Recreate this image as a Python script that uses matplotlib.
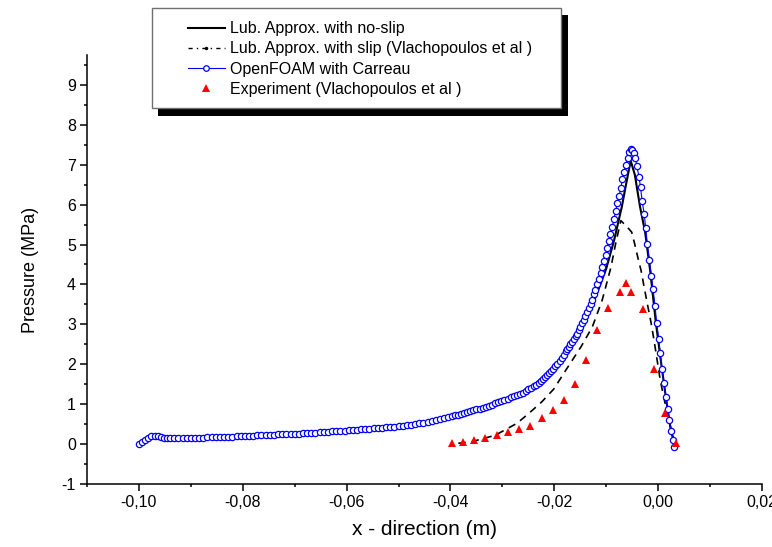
import matplotlib
matplotlib.use("Agg")
import matplotlib.pyplot as plt
from matplotlib.lines import Line2D
from matplotlib.patches import Rectangle
from matplotlib.ticker import MultipleLocator, FuncFormatter

plt.rcParams['font.family'] = ['Liberation Sans', 'DejaVu Sans']
plt.rcParams['axes.unicode_minus'] = False

# ---- OpenFOAM with Carreau (blue circles) ----
foam_x = [
    -0.1000, -0.0994, -0.0988, -0.0982, -0.0976, -0.0970, -0.0964, -0.0958, -0.0952, -0.0946, -0.0940,
    -0.0932, -0.0924, -0.0916, -0.0908, -0.0900, -0.0892, -0.0884, -0.0876, -0.0868, -0.0860,
    -0.0852, -0.0844, -0.0836, -0.0828, -0.0820, -0.0812, -0.0804, -0.0796, -0.0788, -0.0780,
    -0.0772, -0.0764, -0.0756, -0.0748, -0.0740, -0.0732, -0.0724, -0.0716, -0.0708, -0.0700,
    -0.0692, -0.0684, -0.0676, -0.0668, -0.0660, -0.0652, -0.0644, -0.0636, -0.0628, -0.0620,
    -0.0612, -0.0604, -0.0596, -0.0588, -0.0580, -0.0572, -0.0564, -0.0556, -0.0548, -0.0540,
    -0.0532, -0.0524, -0.0516, -0.0508, -0.0500, -0.0492, -0.0484, -0.0476, -0.0468, -0.0460,
    -0.0452, -0.0444, -0.0436, -0.0428, -0.0420, -0.0412, -0.0404,
    -0.0398, -0.0392, -0.0386, -0.0380, -0.0374, -0.0368, -0.0362, -0.0356, -0.0350, -0.0344,
    -0.0338, -0.0332, -0.0326, -0.0320, -0.0314, -0.0308, -0.0302, -0.0296, -0.0290, -0.0284,
    -0.0278, -0.0272, -0.0266, -0.0260, -0.0255, -0.0250, -0.0245, -0.0240, -0.0235, -0.0230,
    -0.0226, -0.0222, -0.0218, -0.0214, -0.0210, -0.0206, -0.0202, -0.0198, -0.0194, -0.0190,
    -0.0186, -0.0182, -0.0178, -0.0175, -0.0172, -0.0169, -0.0166, -0.0163, -0.0159, -0.0156,
    -0.0153, -0.0150, -0.0146, -0.0143, -0.0140, -0.0137, -0.0133, -0.0130, -0.0127, -0.0124,
    -0.0121, -0.0117, -0.0114, -0.0111, -0.0108, -0.0104, -0.0101, -0.0098, -0.0095, -0.0092,
    -0.0088, -0.0085, -0.0082, -0.0079, -0.0075, -0.0072, -0.0069, -0.0066, -0.0062, -0.0059,
    -0.0056, -0.0053, -0.0050, -0.0047, -0.0044, -0.0041, -0.0037, -0.0034, -0.0031, -0.0027,
    -0.0024, -0.0021, -0.0017, -0.0013, -0.0010, -0.0006, -0.0003, 0.0001, 0.0004, 0.0007,
    0.0011, 0.0015, 0.0018, 0.0021, 0.0025, 0.0028, 0.0031,
]
foam_p = [
    0.00, 0.04, 0.09, 0.14, 0.19, 0.21, 0.19, 0.17, 0.16, 0.15, 0.145,
    0.14, 0.14, 0.145, 0.15, 0.15, 0.155, 0.16, 0.16, 0.165, 0.17,
    0.17, 0.175, 0.18, 0.18, 0.185, 0.19, 0.195, 0.20, 0.205, 0.21,
    0.215, 0.22, 0.225, 0.23, 0.235, 0.24, 0.245, 0.25, 0.255, 0.26,
    0.265, 0.27, 0.28, 0.285, 0.29, 0.30, 0.305, 0.31, 0.32, 0.325,
    0.33, 0.34, 0.345, 0.355, 0.36, 0.37, 0.38, 0.385, 0.395, 0.405,
    0.415, 0.42, 0.43, 0.44, 0.45, 0.465, 0.475, 0.49, 0.50, 0.52,
    0.54, 0.56, 0.58, 0.61, 0.63, 0.66, 0.68,
    0.70, 0.72, 0.74, 0.76, 0.78, 0.80, 0.82, 0.85, 0.87, 0.89,
    0.91, 0.94, 0.96, 0.99, 1.02, 1.05, 1.08, 1.11, 1.14, 1.17,
    1.20, 1.23, 1.26, 1.29, 1.33, 1.37, 1.41, 1.45, 1.49, 1.53,
    1.58, 1.63, 1.68, 1.73, 1.78, 1.83, 1.89, 1.95, 2.01, 2.08,
    2.15, 2.24, 2.32, 2.38, 2.44, 2.50, 2.56, 2.63, 2.70, 2.77,
    2.85, 2.93, 3.03, 3.12, 3.21, 3.31, 3.41, 3.51, 3.62, 3.75,
    3.87, 4.00, 4.14, 4.28, 4.43, 4.58, 4.75, 4.92, 5.10, 5.27,
    5.45, 5.65, 5.83, 6.03, 6.22, 6.42, 6.63, 6.83, 7.00, 7.18,
    7.33, 7.40, 7.38, 7.30, 7.18, 6.96, 6.70, 6.43, 6.10, 5.77,
    5.41, 5.02, 4.62, 4.22, 3.89, 3.45, 3.04, 2.64, 2.27, 1.89,
    1.53, 1.18, 0.87, 0.60, 0.33, 0.10, -0.07,
]

# ---- Lub. Approx. with no-slip (solid black) ----
noslip_x = [-0.0400, -0.0350, -0.0300, -0.0250, -0.0200, -0.0170, -0.0140, -0.0120, -0.0100,
            -0.0085, -0.0070, -0.0062, -0.0053, -0.0045, -0.0035, -0.0025, -0.0015, -0.0005,
            0.0005, 0.0015, 0.0025, 0.0033]
noslip_p = [0.66, 0.86, 1.10, 1.38, 1.90, 2.40, 3.10, 3.70, 4.40,
            5.10, 5.95, 6.50, 7.10, 6.75, 5.95, 5.30, 4.30, 3.10,
            2.10, 1.15, 0.30, 0.00]

# ---- Lub. Approx. with slip (dashed black) ----
slip_x = [-0.0385, -0.0359, -0.0314, -0.0272, -0.0249, -0.0224, -0.0201, -0.0178, -0.0149,
          -0.0127, -0.0108, -0.0091, -0.0082, -0.0072, -0.0059, -0.0051, -0.0045, -0.0040,
          -0.0033, -0.0027, -0.0021, -0.0014, -0.0008, -0.0002, 0.0004, 0.0012, 0.0019,
          0.0025, 0.0032]
slip_p = [0.02, 0.06, 0.22, 0.52, 0.77, 1.06, 1.38, 1.85, 2.43,
          2.93, 3.60, 4.43, 5.02, 5.60, 5.43, 5.31, 5.00, 4.72,
          4.35, 3.93, 3.52, 3.06, 2.60, 2.10, 1.60, 1.10, 0.70,
          0.35, 0.00]

# ---- Experiment (red triangles) ----
exp_x = [-0.0397, -0.0376, -0.0354, -0.0333, -0.0311, -0.0289, -0.0269, -0.0246, -0.0224,
         -0.0203, -0.0182, -0.0160, -0.0139, -0.0117, -0.0096, -0.0074, -0.0062, -0.0052,
         -0.0030, -0.0008, 0.0014, 0.0035]
exp_p = [0.02, 0.05, 0.10, 0.16, 0.22, 0.31, 0.37, 0.45, 0.66,
         0.85, 1.11, 1.51, 2.11, 2.86, 3.42, 3.81, 4.03, 3.81,
         3.39, 1.89, 0.77, 0.02]

labels = ["Lub. Approx. with no-slip",
          "Lub. Approx. with slip (Vlachopoulos et al )",
          "OpenFOAM with Carreau",
          "Experiment (Vlachopoulos et al )"]

fig = plt.figure(figsize=(7.72, 5.47), dpi=100)
ax = fig.add_axes([0.1127, 0.1152, 0.8744, 0.7843])

ax.plot(noslip_x, noslip_p, color='black', lw=1.5, zorder=2)
ax.plot(slip_x, slip_p, color='black', lw=1.2, dashes=(4.5, 3.5), zorder=2)
ax.plot(foam_x, foam_p, color='#0000ff', lw=0.8, marker='o', markersize=4.5,
        markerfacecolor='white', markeredgecolor='#0000ff', markeredgewidth=0.9, zorder=3)
ax.plot(exp_x, exp_p, linestyle='none', marker='^', markersize=5.5,
        color='#ff0000', markeredgewidth=0, zorder=4)

ax.set_xlim(-0.11, 0.02)
ax.set_ylim(-1, 9.75)
ax.set_xticks([-0.10, -0.08, -0.06, -0.04, -0.02, 0.00, 0.02])
ax.xaxis.set_minor_locator(MultipleLocator(0.01))
ax.set_yticks(range(-1, 10))
ax.yaxis.set_minor_locator(MultipleLocator(0.5))
ax.xaxis.set_major_formatter(FuncFormatter(lambda v, p: ('%.2f' % v).replace('.', ',')))

for side in ['top', 'right']:
    ax.spines[side].set_visible(False)
for side in ['left', 'bottom']:
    ax.spines[side].set_linewidth(1.1)
ax.tick_params(which='major', direction='out', length=5, width=1.1, labelsize=11.5, pad=3)
ax.tick_params(which='minor', direction='out', length=2.5, width=1.1)

ax.set_xlabel("x - direction (m)", fontsize=15, labelpad=7)
ax.set_ylabel("Pressure (MPa)", fontsize=13, labelpad=16)

# legend box with solid black shadow
W, H = 772.0, 547.0
fig.add_artist(Rectangle((158 / W, 1 - 116 / H), 410 / W, 101 / H, transform=fig.transFigure,
                         facecolor='black', edgecolor='none', zorder=4))
fig.add_artist(Rectangle((152 / W, 1 - 108 / H), 409 / W, 100 / H, transform=fig.transFigure,
                         facecolor='white', edgecolor='#707070', lw=1, zorder=4.5))

handles = [
    Line2D([], [], color='black', lw=1.5),
    Line2D([], [], color='black', lw=1.0, linestyle=(0, (3, 3, 1, 3)), marker='.', markersize=3),
    Line2D([], [], color='#0000ff', lw=0.8, marker='o', markersize=4,
           markerfacecolor='white', markeredgecolor='#0000ff', markeredgewidth=0.9),
    Line2D([], [], linestyle='none', marker='^', markersize=5.5, color='#ff0000', markeredgewidth=0),
]
leg = fig.legend(handles, labels, loc='center left', bbox_to_anchor=(188 / W, 1 - 59 / H),
                 frameon=False, fontsize=11.5, handlelength=2.3, handletextpad=0.35,
                 labelspacing=0.33, borderpad=0, borderaxespad=0)
leg.set_zorder(5)

fig.savefig("out.png", dpi=100)
